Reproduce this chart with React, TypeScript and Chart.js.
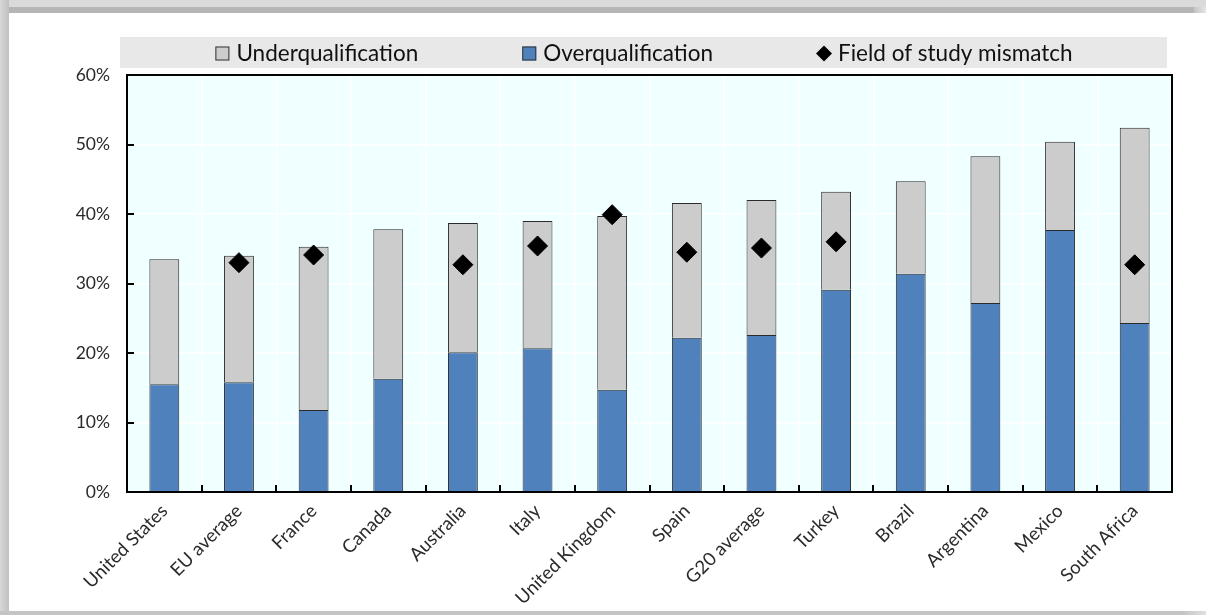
import React, { useEffect, useRef } from "react";
import { Chart, registerables } from "chart.js";

Chart.register(...registerables);

const categories = [
  "United States", "EU average", "France", "Canada", "Australia", "Italy",
  "United Kingdom", "Spain", "G20 average", "Turkey", "Brazil", "Argentina",
  "Mexico", "South Africa",
];
const overqualification = [15.5, 15.8, 11.8, 16.3, 20.1, 20.7, 14.7, 22.2, 22.6, 29.1, 31.4, 27.2, 37.7, 24.3];
const underqualification = [18.0, 18.2, 23.5, 21.5, 18.6, 18.3, 25.0, 19.4, 19.4, 14.1, 13.3, 21.1, 12.7, 28.1];
const fieldOfStudyMismatch = [null, 33.0, 34.1, null, 32.7, 35.4, 39.9, 34.5, 35.1, 36.0, null, null, null, 32.7];
const yTicks = [0, 10, 20, 30, 40, 50, 60];
const legendLabels = ["Underqualification", "Overqualification", "Field of study mismatch"];

const FONT = "Lato, 'Noto Sans', sans-serif";
const BLUE = "#4F81BD";
const GREY = "#CCCCCC";

const framePlugin = {
  id: "framePlugin",
  beforeDraw(chart: any) {
    const { ctx, chartArea: a } = chart;
    ctx.save();
    ctx.fillStyle = "#F0FFFF";
    ctx.fillRect(a.left, a.top, a.right - a.left, a.bottom - a.top);
    ctx.restore();
  },
  afterDraw(chart: any) {
    const { ctx, chartArea: a } = chart;
    const ys = chart.scales.y;
    ctx.save();
    // inside tick marks
    ctx.strokeStyle = "#000";
    ctx.lineWidth = 2;
    ctx.beginPath();
    const n = categories.length;
    const step = (a.right - a.left) / n;
    for (let i = 1; i < n; i++) {
      const x = Math.round(a.left + step * i);
      ctx.moveTo(x, a.bottom);
      ctx.lineTo(x, a.bottom - 7);
    }
    yTicks.forEach((v) => {
      const y = Math.round(ys.getPixelForValue(v));
      ctx.moveTo(a.left, y);
      ctx.lineTo(a.left + 7, y);
    });
    ctx.stroke();
    // border
    ctx.lineWidth = 2;
    ctx.strokeStyle = "#000";
    ctx.strokeRect(a.left, a.top, a.right - a.left, a.bottom - a.top);

    // legend
    const boxL = a.left - 7;
    const boxR = a.right - 5;
    const boxT = a.top - 38;
    const boxB = a.top - 7;
    ctx.fillStyle = "#E8E8E8";
    ctx.fillRect(boxL, boxT, boxR - boxL, boxB - boxT);
    ctx.font = "22.5px " + FONT;
    ctx.textBaseline = "middle";
    const marker = 16;
    const gapM = 6;
    const gapItems = 103;
    const widths = legendLabels.map((t) => ctx.measureText(t).width);
    const total = widths.reduce((s, w) => s + marker + gapM + w, 0) + gapItems * (legendLabels.length - 1);
    let x = (boxL + boxR) / 2 - total / 2;
    const cy = (boxT + boxB) / 2 + 1;
    legendLabels.forEach((t, i) => {
      if (i === 0 || i === 1) {
        ctx.fillStyle = i === 0 ? GREY : BLUE;
        ctx.fillRect(x + 1, cy - 7, 14, 14);
        ctx.lineWidth = 1;
        ctx.strokeStyle = "#333";
        ctx.strokeRect(x + 1.5, cy - 6.5, 13, 13);
      } else {
        ctx.fillStyle = "#000";
        ctx.beginPath();
        ctx.moveTo(x + 8, cy - 8);
        ctx.lineTo(x + 16, cy);
        ctx.lineTo(x + 8, cy + 8);
        ctx.lineTo(x, cy);
        ctx.closePath();
        ctx.fill();
      }
      ctx.fillStyle = "#111";
      ctx.textAlign = "left";
      ctx.fillText(t, x + marker + gapM, cy);
      x += marker + gapM + widths[i] + gapItems;
    });
    ctx.restore();
  },
};

export default function App() {
  const ref = useRef<HTMLCanvasElement | null>(null);
  useEffect(() => {
    document.body.style.margin = "0";
    if (!ref.current) return;
    Chart.defaults.font.family = FONT;
    const chart = new Chart(ref.current, {
      type: "bar",
      data: {
        labels: categories,
        datasets: [
          {
            label: "Overqualification",
            data: overqualification,
            backgroundColor: BLUE,
            borderColor: "#2a2a2a",
            borderWidth: 1,
            stack: "q",
            barPercentage: 0.4,
            categoryPercentage: 1,
            order: 2,
          },
          {
            label: "Underqualification",
            data: underqualification,
            backgroundColor: GREY,
            borderColor: "#2a2a2a",
            borderWidth: 1,
            stack: "q",
            barPercentage: 0.4,
            categoryPercentage: 1,
            order: 2,
          },
          {
            type: "line",
            label: "Field of study mismatch",
            data: fieldOfStudyMismatch,
            showLine: false,
            pointStyle: "rectRot",
            pointRadius: 10,
            pointBackgroundColor: "#000",
            pointBorderColor: "#000",
            stack: "f",
            order: 1,
          } as any,
        ],
      },
      options: {
        responsive: false,
        animation: false,
        layout: { padding: { left: 0, top: 75, right: 34, bottom: 0 } },
        plugins: { legend: { display: false }, tooltip: { enabled: false } },
        scales: {
          x: {
            stacked: true,
            grid: { color: "#FFFFFF", lineWidth: 1.5, drawTicks: false, offset: true },
            border: { display: false },
            ticks: {
              color: "#2b2b2b",
              font: { size: 18.5 },
              maxRotation: 45,
              minRotation: 45,
              padding: 8,
              autoSkip: false,
            },
            afterFit: (s: any) => {
              s.height = 123;
            },
          },
          y: {
            stacked: true,
            min: 0,
            max: 60,
            grid: { color: "#FFFFFF", lineWidth: 1.5, drawTicks: false },
            border: { display: false },
            ticks: {
              stepSize: 10,
              color: "#2b2b2b",
              font: { size: 17.5 },
              padding: 17,
              callback: (v: any) => v + "%",
            },
            afterFit: (s: any) => {
              s.width = 127;
            },
          },
        },
      },
      plugins: [framePlugin],
    });
    return () => chart.destroy();
  }, []);

  return (
    <div style={{ position: "relative", width: 1206, height: 615, background: "#fff", overflow: "hidden" }}>
      <div style={{ position: "absolute", left: 0, top: 0, width: 1206, height: 7, background: "#dadada" }} />
      <div style={{ position: "absolute", left: 9, top: 7, width: 1185, height: 6, background: "#b6b6b6" }} />
      <div style={{ position: "absolute", left: 1194, top: 7, width: 12, height: 6, background: "linear-gradient(to right, #c4c4c4, #e6e6e6)" }} />
      <div style={{ position: "absolute", left: 0, top: 0, width: 9, height: 615, background: "linear-gradient(to right, #d8d8d8, #c0c0c0)" }} />
      <div style={{ position: "absolute", left: 0, top: 611, width: 1206, height: 4, background: "linear-gradient(to right, #c4c4c4, #c4c4c4 98%, #e0e0e0)" }} />
      <canvas ref={ref} width={1206} height={615} style={{ position: "absolute", left: 0, top: 0 }} />
    </div>
  );
}
